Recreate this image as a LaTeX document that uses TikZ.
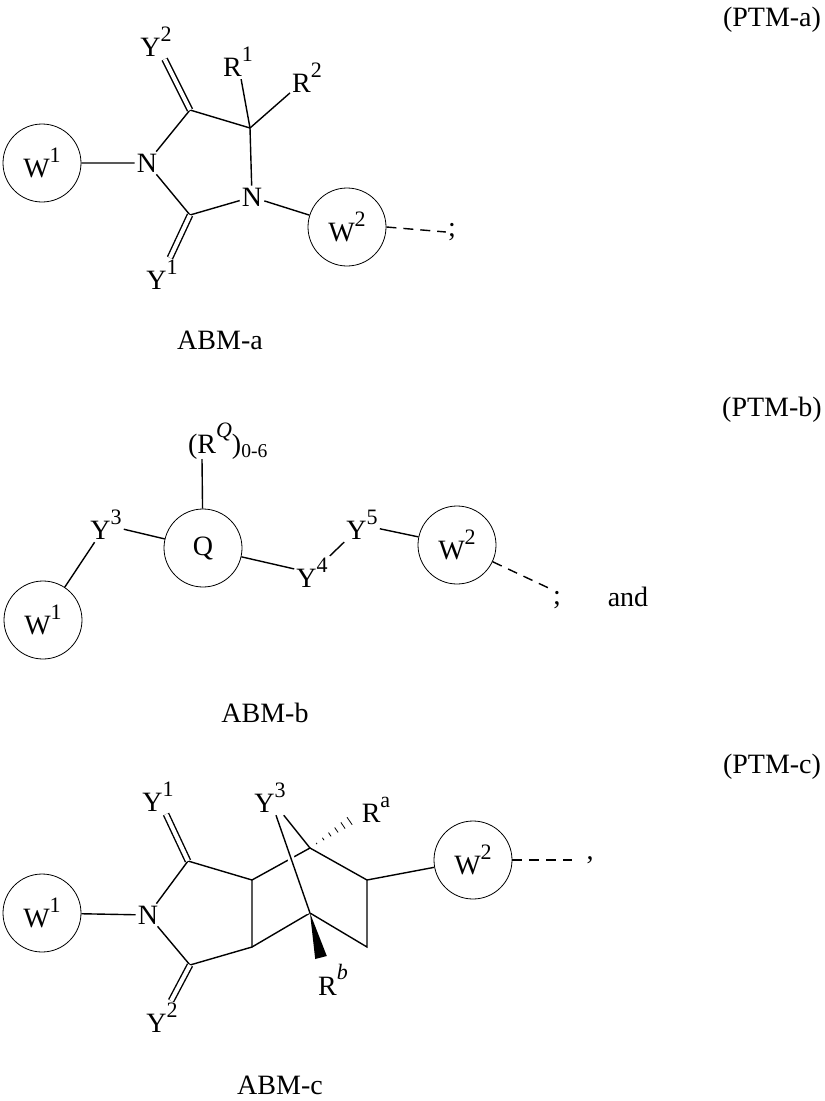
\documentclass[tikz,border=0pt]{standalone}
\usepackage{fontspec}
\setmainfont{Liberation Serif}
\usetikzlibrary{calc}
\tikzset{x=1pt,y=-1pt,
    ring/.style={
        circle,
        draw,
        thick,
        minimum size=78pt,
        inner sep=0pt},
    atom/.style={
        inner sep=2pt},
    bond/.style={
        draw,
        line width=1.4pt},
    dbond/.style={
        bond,
        double,
        double distance=4pt},
    tail/.style={
        bond,
        dashed,
        dash pattern=on 10pt off 7pt},
    cross/.style={
        bond,
        preaction={draw=white,line width=7pt}}}
\newcommand{\up}[1]{\raisebox{0.55em}{\fontsize{22}{24}\selectfont #1}}
\begin{document}
\begin{tikzpicture}[font=\fontsize{28}{30}\selectfont]
    \useasboundingbox (0,0) rectangle (825,1101);

    % PTM-a
    \node at (772,20) {(PTM-a)};
    \node[ring] (aw1) at (42,163) {W\up{1}};
    \node[atom] (an1) at (147,163) {N};
    \coordinate (ac1) at (190,110);
    \coordinate (ac2) at (250,128);
    \node[atom] (an2) at (252,197) {N};
    \coordinate (ac3) at (190,215);
    \node[ring] (aw2) at (347,227) {W\up{2}};
    \node[atom] (ay2) at (156,42) {Y\up{2}};
    \node[atom] (ay1) at (162,275) {Y\up{1}};
    \node[atom] (ar1) at (238,62) {R\up{1}};
    \node[atom] (ar2) at (307,78) {R\up{2}};
    \node[atom] (asemi) at (452,232) {;};
    \draw[bond] (aw1) -- (an1) -- (ac1) -- (ac2) -- (an2) -- (ac3) -- (an1);
    \draw[bond] (an2) -- (aw2);
    \draw[bond] (ac2) -- (ar1);
    \draw[bond] (ac2) -- (ar2);
    \draw[dbond] (ac1) -- (ay2);
    \draw[dbond] (ac3) -- (ay1);
    \draw[tail] (aw2.east) -- (asemi.west);
    \node at (220,340) {ABM-a};

    % PTM-b
    \node at (772,410) {(PTM-b)};
    \node[ring] (bw1) at (43,620) {W\up{1}};
    \node[atom] (by3) at (106,525) {Y\up{3}};
    \node[ring] (bq) at (203,548) {Q};
    \node[atom] (brq) at (228,441) {(R\up{\itshape Q})\textsubscript{0-6}};
    \node[atom] (by4) at (312,573) {Y\up{4}};
    \node[atom] (by5) at (362,525) {Y\up{5}};
    \node[ring] (bw2) at (457,545) {W\up{2}};
    \node[atom] (bsemi) at (557,600) {;};
    \draw[bond] (bw1) -- (by3) -- (bq) -- (by4) -- (by5) -- (bw2);
    \draw[bond] (bq) -- (202,459);
    \draw[tail] (bw2) -- (bsemi.north west);
    \node at (628,597) {and};
    \node at (265,713) {ABM-b};

    % PTM-c
    \node at (772,767) {(PTM-c)};
    \node[ring] (cw1) at (42,913) {W\up{1}};
    \node[atom] (cn) at (148,915) {N};
    \coordinate (cc1) at (188,861);
    \coordinate (cc2) at (190,965);
    \coordinate (ca) at (252,880);
    \coordinate (cb) at (252,947);
    \coordinate (ct) at (310,848);
    \coordinate (cu) at (310,913);
    \coordinate (cr1) at (367,880);
    \coordinate (cr2) at (367,947);
    \node[ring] (cw2) at (473,860) {W\up{2}};
    \node[atom] (cy1) at (158,797) {Y\up{1}};
    \node[atom] (cy2) at (162,1018) {Y\up{2}};
    \node[atom] (cy3) at (270,798) {Y\up{3}};
    \node[atom] (cra) at (376,810) {R\up{a}};
    \node[atom] (crb) at (333,980) {R\up{\itshape b}};
    \node[atom] (ccomma) at (590,860) {,};
    \coordinate (chash) at (354,818);
    \draw[bond] (cw1) -- (cn) -- (cc1) -- (ca) -- (cb) -- (cc2) -- (cn);
    \draw[bond] (ca) -- (ct) -- (cr1) -- (cr2) -- (cu) -- (cb);
    \draw[bond] (cr1) -- (cw2);
    \draw[bond] (cy3) -- (ct);
    \draw[cross] (cy3) -- (cu);
    \draw[dbond] (cc1) -- (cy1);
    \draw[dbond] (cc2) -- (cy2);
    \foreach \t in {0.15,0.3,...,1.0}
        \draw[thick] ($(ct)!\t!(chash)+(0.57*5*\t,0.83*5*\t)$)
            -- ($(ct)!\t!(chash)-(0.57*5*\t,0.83*5*\t)$);
    \fill (cu) -- (326.8,956) -- (315.2,959) -- cycle;
    \draw[tail,shorten >=12pt] (cw2.east) -- (ccomma.west);
    \node at (280,1085) {ABM-c};
\end{tikzpicture}
\end{document}
